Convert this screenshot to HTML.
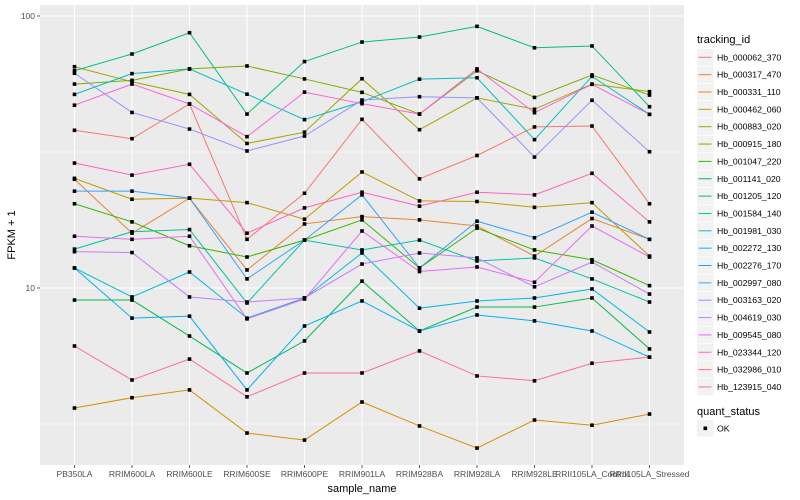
<!DOCTYPE html>
<html><head><meta charset="utf-8"><style>
body{margin:0;background:#fff;}
svg{display:block;font-family:"Liberation Sans",sans-serif;}
</style></head><body>
<svg id="chart" width="800" height="500" viewBox="0 0 800 500" xmlns="http://www.w3.org/2000/svg"></svg>
<script>
const categories=["PB350LA","RRIM600LA","RRIM600LE","RRIM600SE","RRIM600PE","RRIM901LA","RRIM928BA","RRIM928LA","RRIM928LE","RRII105LA_Control","RRII105LA_Stressed"];
const seriesNames=["Hb_000062_370","Hb_000317_470","Hb_000331_110","Hb_000462_060","Hb_000883_020","Hb_000915_180","Hb_001047_220","Hb_001141_020","Hb_001205_120","Hb_001584_140","Hb_001981_030","Hb_002272_130","Hb_002276_170","Hb_002997_080","Hb_003163_020","Hb_004619_030","Hb_009545_080","Hb_023344_120","Hb_032986_010","Hb_123915_040"];
const s000062=[38.0,35.4,47.5,15.1,22.3,41.7,25.2,30.7,39.1,39.4,20.4];
const s000317=[25.1,15.9,21.4,11.65,17.2,18.3,17.8,16.9,13.1,18.0,15.1];
const s000331=[3.62,3.95,4.22,2.93,2.76,3.81,3.11,2.58,3.27,3.13,3.44];
const s000462=[25.3,21.2,21.4,20.6,17.9,26.7,20.9,20.8,19.8,20.6,13.1];
const s000883=[65.1,57.3,51.5,34.0,37.4,58.8,38.2,50.0,45.4,56.2,52.7];
const s000915=[56.2,58.0,63.9,65.5,58.7,52.4,43.6,62.9,50.2,60.7,51.2];
const s001047=[20.4,17.5,14.3,13.0,15.0,17.8,11.85,16.6,13.8,12.7,10.2];
const s001141=[9.03,9.03,6.66,4.87,6.39,10.6,6.95,8.51,8.51,9.19,5.97];
const s001205=[62.9,72.5,86.8,43.6,68.0,80.2,83.7,91.6,76.4,77.6,46.4];
const s001584=[13.9,16.1,16.4,8.81,15.0,13.8,15.0,12.57,12.9,10.8,8.88];
const s001981=[51.5,61.4,63.9,51.6,41.6,48.4,58.6,59.3,35.1,60.0,43.5];
const s002272=[11.85,9.27,11.45,7.75,9.19,13.45,8.43,8.96,9.19,9.92,6.89];
const s002276=[11.85,7.75,7.88,4.22,7.25,8.96,6.95,7.96,7.57,6.95,5.57];
const s002997=[22.7,22.7,21.4,10.8,15.0,22.0,11.85,17.6,15.3,19.0,15.1];
const s003163=[61.6,44.2,38.4,31.9,36.2,49.1,50.5,50.0,30.3,49.0,31.7];
const s004619=[13.6,13.5,9.27,8.88,9.19,12.25,13.45,12.9,10.1,12.45,9.5];
const s009545=[15.5,15.1,15.5,7.7,9.11,16.2,11.5,11.95,10.5,16.9,13.0];
const s023344=[47.0,56.2,47.5,36.0,52.5,47.6,43.6,63.9,44.1,56.1,43.5];
const s032986=[28.8,26.0,28.5,15.9,19.7,22.5,20.0,22.5,22.0,26.4,17.5];
const s123915=[6.12,4.59,5.48,3.98,4.87,4.87,5.87,4.75,4.56,5.29,5.57];
const seriesValues=[s000062,s000317,s000331,s000462,s000883,s000915,s001047,s001141,s001205,s001584,s001981,s002272,s002276,s002997,s003163,s004619,s009545,s023344,s032986,s123915];
const colors=["#F8766D","#EA8331","#D89000","#C09B00","#A3A500","#7CAE00","#39B600","#00BB4E","#00BF7D","#00C1A3","#00BFC4","#00BAE0","#00B0F6","#35A2FF","#9590FF","#C77CFF","#E76BF3","#FA62DB","#FF62BC","#FF6C91"];
const yTicks=[10,100];
const yMinor=[3.1623,31.623];

const NS="http://www.w3.org/2000/svg";
const svg=document.getElementById('chart');
const PL=40,PR=684,PT=5,PB=465;
const step=(PR-PL)/(categories.length-1+1.2);
function x(i){return PL+step*(0.6+i);}
function y(v){return 288-272*Math.log10(v/10);}
function el(tag,attrs,parent){const e=document.createElementNS(NS,tag);for(const k in attrs)e.setAttribute(k,attrs[k]);(parent||svg).appendChild(e);return e;}

const panel=el('rect',{x:PL,y:PT,width:PR-PL,height:PB-PT,fill:'#EBEBEB'});


yMinor.forEach(v=>{const g=el('line',{x1:PL,x2:PR,y1:y(v),y2:y(v),stroke:'#fff','stroke-width':0.6});

});
yTicks.forEach(v=>{const g=el('line',{x1:PL,x2:PR,y1:y(v),y2:y(v),stroke:'#fff','stroke-width':1.1});


const t=el('text',{x:PL-5,y:y(v)+3,'text-anchor':'end','font-size':8.5,fill:'#4D4D4D'});t.textContent=String(v);


el('line',{x1:PL-3,x2:PL,y1:y(v),y2:y(v),stroke:'#333','stroke-width':0.8});});
categories.forEach((c,i)=>{const g=el('line',{x1:x(i),x2:x(i),y1:PT,y2:PB,stroke:'#fff','stroke-width':1.1});


el('line',{x1:x(i),x2:x(i),y1:PB,y2:PB+3,stroke:'#333','stroke-width':0.8});
const t=el('text',{x:x(i),y:477,'text-anchor':'middle','font-size':8.5,fill:'#4D4D4D'});t.textContent=c;

});

seriesValues.forEach((vals,s)=>{
 const g=el('g',{});
 
 
 const p=el('polyline',{points:vals.map((v,i)=>x(i)+','+y(v)).join(' '),fill:'none',stroke:colors[s],'stroke-width':1},g);
 
 
});
seriesValues.forEach((vals,s)=>{
 vals.forEach((v,i)=>{const r=el('rect',{x:x(i)-1.8,y:y(v)-1.8,width:3.6,height:3.6,fill:'#000'});
 
 });
});

const xt=el('text',{x:(PL+PR)/2,y:492,'text-anchor':'middle','font-size':11,fill:'#000'});xt.textContent='sample_name';


const yt=el('text',{x:0,y:0,'text-anchor':'middle','font-size':11,fill:'#000',transform:'translate(15,235) rotate(-90)'});yt.textContent='FPKM + 1';



const lt=el('text',{x:697,y:43,'font-size':11,fill:'#000'});lt.textContent='tracking_id';


seriesNames.forEach((n,s)=>{const cy=57.3+s*17.35;
 const g=el('g',{});
 
 
 el('rect',{x:697,y:cy-8.3,width:16.6,height:16.6,fill:'#F2F2F2'},g);
 el('line',{x1:698.5,x2:711.5,y1:cy,y2:cy,stroke:colors[s],'stroke-width':1},g);
 const t=el('text',{x:717,y:cy+3,'font-size':8.7,fill:'#000'},g);t.textContent=n;});
const qt=el('text',{x:697,y:415,'font-size':11,fill:'#000'});qt.textContent='quant_status';


const qg=el('g',{});


el('rect',{x:697,y:420,width:16.6,height:16.6,fill:'#F2F2F2'},qg);
el('rect',{x:703.5,y:426.5,width:3.6,height:3.6,fill:'#000'},qg);
const ok=el('text',{x:717,y:431.5,'font-size':8.7,fill:'#000'},qg);ok.textContent='OK';
</script>
</body></html>
